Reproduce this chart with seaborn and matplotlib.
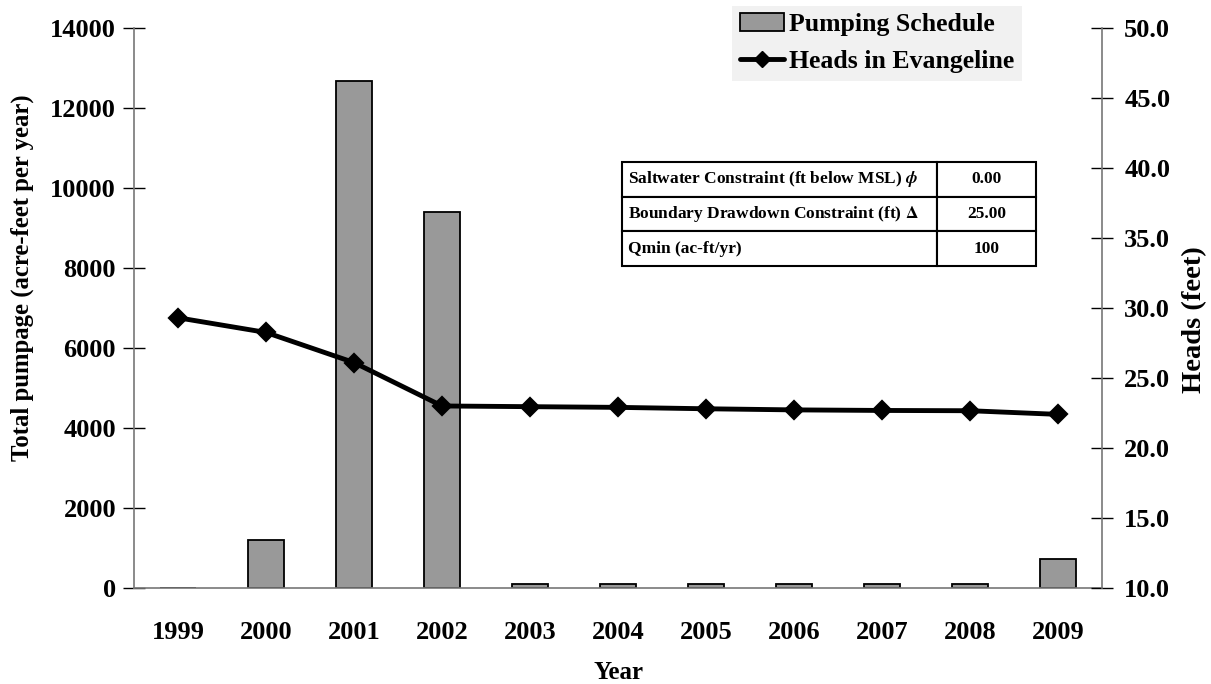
import numpy as np
import pandas as pd
import matplotlib
matplotlib.use('Agg')
import matplotlib.pyplot as plt
from matplotlib.patches import Patch
from matplotlib.lines import Line2D
import seaborn as sns

# Data
years = ['1999', '2000', '2001', '2002', '2003', '2004', '2005', '2006', '2007', '2008', '2009']
pumpage = [0, 1200, 12680, 9400, 100, 100, 100, 100, 100, 100, 730]
heads = [29.3, 28.25, 26.1, 23.0, 22.95, 22.9, 22.8, 22.72, 22.68, 22.66, 22.4]

table_labels = ['Saltwater Constraint (ft below MSL) $\\phi$',
                'Boundary Drawdown Constraint (ft) $\\Delta$',
                'Qmin (ac-ft/yr)']
table_values = ['0.00', '25.00', '100']

df = pd.DataFrame({'year': years, 'pumpage': pumpage, 'heads': heads})

sns.set_style('white')
plt.rcParams['font.family'] = ['Liberation Serif', 'DejaVu Serif']
plt.rcParams['font.weight'] = 'bold'
plt.rcParams['mathtext.fontset'] = 'stix'
for key in ['text.color', 'axes.labelcolor', 'xtick.color', 'ytick.color']:
    plt.rcParams[key] = 'black'

fig = plt.figure(figsize=(12.11, 6.84), dpi=100)
ax = fig.add_axes([0.1107, 0.1404, 0.7993, 0.8187])

# Bars: pumping schedule
sns.barplot(data=df, x='year', y='pumpage', ax=ax, color='#999999',
            saturation=1, width=0.41, edgecolor='black', linewidth=1.3)

ax.set_ylim(0, 14000)
ax.set_yticks(np.arange(0, 14001, 2000))
ax.set_xlim(-0.5, len(years) - 0.5)
ax.set_xticks(np.arange(-0.5, len(years), 1), minor=True)
ax.tick_params(axis='x', which='major', length=0, pad=24, labelsize=19)
ax.tick_params(axis='x', which='minor', length=16, direction='inout', color='black', width=1)
ax.tick_params(axis='y', length=16, direction='inout', color='black', width=1, labelsize=19, pad=5)
for lbl in ax.get_xticklabels() + ax.get_yticklabels():
    lbl.set_fontweight('bold')
ax.set_xlabel('Year', fontsize=18, fontweight='bold', labelpad=12)
ax.set_ylabel('Total pumpage (acre-feet per year)', fontsize=17.8, fontweight='bold')
ax.yaxis.set_label_coords(-0.103, 0.554)
for s in ['top', 'right']:
    ax.spines[s].set_visible(False)
for s in ['left', 'bottom']:
    ax.spines[s].set_color('#777777')
    ax.spines[s].set_linewidth(1.2)

# Line: heads on secondary axis
ax2 = ax.twinx()
sns.pointplot(data=df, x='year', y='heads', ax=ax2, color='black',
              markers='D', markersize=8, linewidth=3.5, errorbar=None)
ax2.set_xlim(-0.5, len(years) - 0.5)
ax2.set_ylim(10, 50)
ax2.set_yticks(np.arange(10, 50.1, 5))
ax2.set_yticklabels([f'{v:.1f}' for v in np.arange(10, 50.1, 5)], fontweight='bold')
ax2.tick_params(axis='y', length=16, direction='inout', color='black', width=1, labelsize=19, pad=8)
ax2.set_ylabel('Heads (feet)', fontsize=20.5, fontweight='bold')
ax2.yaxis.set_label_coords(1.083, 0.479)
ax2.set_xlabel('')
for s in ['top', 'left', 'bottom']:
    ax2.spines[s].set_visible(False)
ax2.spines['right'].set_color('#777777')
ax2.spines['right'].set_linewidth(1.2)

# Legend
handles = [Patch(facecolor='#999999', edgecolor='black', linewidth=1.3),
           Line2D([0], [0], color='black', lw=3.5, marker='D', markersize=8)]
leg = ax2.legend(handles, ['Pumping Schedule', 'Heads in Evangeline'],
                 loc='upper right', bbox_to_anchor=(0.917, 1.04), frameon=True,
                 prop={'size': 18.5, 'weight': 'bold'}, handlelength=1.7,
                 handletextpad=0.2, borderpad=0.3, labelspacing=0.55,
                 fancybox=False, borderaxespad=0)
leg.get_frame().set_facecolor('#eeeeee')
leg.get_frame().set_edgecolor('none')

# Constraint table
cell_text = [[lab, val] for lab, val in zip(table_labels, table_values)]
tbl = ax2.table(cellText=cell_text, colWidths=[0.761, 0.239],
                cellLoc='center', bbox=[0.504, 0.575, 0.428, 0.186])
tbl.auto_set_font_size(False)
for (r, c), cell in tbl.get_celld().items():
    cell.set_linewidth(1.5)
    cell.set_edgecolor('black')
    cell.get_text().set_fontsize(12.5)
    cell.get_text().set_fontweight('bold')
    if c == 0:
        cell.get_text().set_ha('left')
        cell.PAD = 0.02
tbl.set_zorder(5)

fig.savefig('out.png', dpi=100)
